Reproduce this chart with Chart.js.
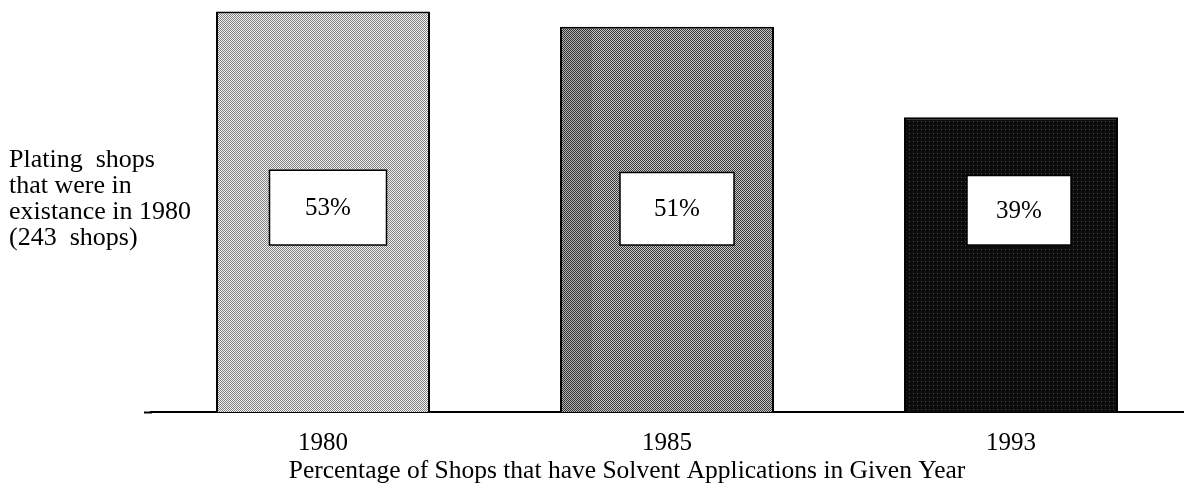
<!DOCTYPE html>
<html>
<head>
<meta charset="utf-8">
<script src="https://cdn.jsdelivr.net/npm/chart.js@4/dist/chart.umd.min.js"></script>
<style>
  html, body { margin: 0; padding: 0; background: #ffffff; }
  #wrap { width: 1185px; height: 491px; position: relative; }
</style>
</head>
<body>
<div id="wrap"><canvas id="c" width="1185" height="491"></canvas></div>
<script>
const categories = ['1980', '1985', '1993'];
const percentValues = [53, 51, 39];
const valueLabels = ['53%', '51%', '39%'];
const leftLabelLines = ['Plating  shops', 'that were in', 'existance in 1980', '(243  shops)'];
const xAxisTitle = 'Percentage of Shops that have Solvent Applications in Given Year';

function makePattern(size, base, dotColor, dots) {
  const c = document.createElement('canvas');
  c.width = size; c.height = size;
  const g = c.getContext('2d');
  g.fillStyle = base; g.fillRect(0, 0, size, size);
  g.fillStyle = dotColor;
  dots.forEach(d => g.fillRect(d[0], d[1], 1, 1));
  return g.createPattern(c, 'repeat');
}
const ctx = document.getElementById('c').getContext('2d');
const fills = [
  makePattern(2, '#f2f2f2', '#808080', [[0,0],[1,1]]),
  makePattern(2, '#c8c8c8', '#383838', [[0,0],[1,1]]),
  makePattern(4, '#0c0c0c', '#4a4a4a', [[1,1]])
];

const FONT = "'Liberation Serif', 'Times New Roman', serif";

const annotate = {
  id: 'annotate',
  afterDatasetsDraw(chart) {
    const c = chart.ctx;
    const y = chart.scales.y;
    const area = chart.chartArea;
    const meta = chart.getDatasetMeta(0);
    const boxW = [117, 114, 104];
    const boxDx = [5, 10, 8];
    const boxTop = [32.0, 31.7, 31.3];
    c.save();
    // slightly darker band on left of 1985 bar (scan shading)
    const b1 = meta.data[1];
    c.fillStyle = 'rgba(0,0,0,0.1)';
    c.fillRect(b1.x - b1.width / 2 + 2, b1.y + 2, 30, area.bottom - b1.y - 2);
    // baseline extension
    c.strokeStyle = '#000';
    c.lineWidth = 2;
    c.beginPath();
    c.moveTo(area.left - 7, area.bottom + 0.5);
    c.lineTo(area.left + 1, area.bottom + 0.5);
    c.stroke();
    meta.data.forEach((bar, i) => {
      const cx = bar.x + boxDx[i];
      const top = y.getPixelForValue(boxTop[i]);
      const bottom = y.getPixelForValue(22.1);
      const w = boxW[i];
      c.fillStyle = '#ffffff';
      c.fillRect(cx - w / 2, top, w, bottom - top);
      c.lineWidth = 1.5;
      c.strokeStyle = '#000';
      c.strokeRect(cx - w / 2, top, w, bottom - top);
      c.fillStyle = '#000';
      c.font = '25px ' + FONT;
      c.textAlign = 'center';
      c.textBaseline = 'middle';
      c.fillText(valueLabels[i], cx, (top + bottom) / 2 + 1);
    });
    // left description
    c.font = '26px ' + FONT;
    c.textAlign = 'left';
    c.textBaseline = 'alphabetic';
    c.fillStyle = '#000';
    leftLabelLines.forEach((t, i) => c.fillText(t, 9, 167 + i * 26));
    // axis title
    c.font = '25.5px ' + FONT;
    c.textAlign = 'center';
    c.fillText(xAxisTitle, 627, 478);
    c.restore();
  }
};

new Chart(ctx, {
  type: 'bar',
  data: {
    labels: categories,
    datasets: [{
      data: percentValues,
      backgroundColor: fills,
      borderColor: '#000',
      borderWidth: 2,
      borderSkipped: 'start',
      categoryPercentage: 1,
      barPercentage: 0.622
    }]
  },
  options: {
    responsive: false,
    animation: false,
    devicePixelRatio: 1,
    layout: { padding: { left: 151, right: 2, top: 4, bottom: 17 } },
    plugins: { legend: { display: false }, tooltip: { enabled: false } },
    scales: {
      y: { display: false, min: 0, max: 54 },
      x: {
        grid: { display: false, drawTicks: false },
        border: { display: true, color: '#000', width: 2 },
        ticks: { color: '#000', font: { family: FONT, size: 25 }, padding: 16 },
        title: { display: false }
      }
    }
  },
  plugins: [annotate]
});
</script>
</body>
</html>
